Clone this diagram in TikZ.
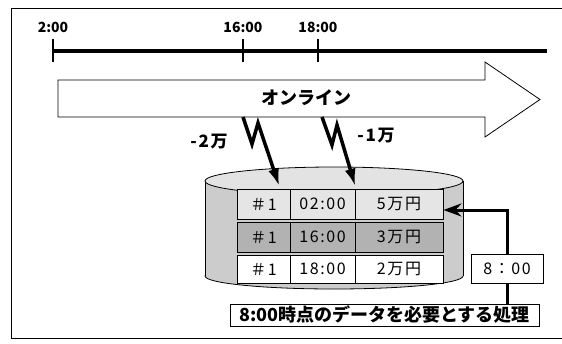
\documentclass[tikz,border=0pt]{standalone}
\usepackage{fontspec}
\setmainfont{Noto Sans CJK JP}
\newfontfamily\wide{Noto Sans CJK JP}[LetterSpace=10]
\usetikzlibrary{arrows.meta}
\tikzstyle{cell}=[draw, thick, inner sep=0pt, font=\fontsize{16}{16}\selectfont\wide]
\tikzstyle{bolt}=[line width=3.5pt, -{Latex[length=18pt,width=11pt]}]
\tikzstyle{tick}=[line width=1.6pt]
\tikzstyle{hour}=[font=\fontsize{14}{14}\selectfont\bfseries]
\tikzstyle{delta}=[font=\fontsize{17}{17}\selectfont\wide\bfseries]
\colorlet{dbside}{gray!40}
\colorlet{dbtop}{gray!22}

\begin{document}
\begin{tikzpicture}[x=1pt,y=-1pt]
\useasboundingbox (0,0) rectangle (562,343);
% frame, open on the right
\draw[thick] (562,8) -- (11,8) -- (11,338) -- (562,338);

% time axis
\draw[line width=3.5pt] (53,51) coordinate (t0) -- (547,51) coordinate (t1);
\foreach \x/\h in {53/2:00, 243/16:00, 318/18:00} {
  \draw[tick] (\x,39) -- (\x,62);
  \node[hour] (h\x) at (\x,27) {\h};
}

% online arrow
\draw[thick] (58,80) -- (485,80) -- (485,62) -- (540,99.5) -- (485,137) -- (485,117) -- (58,117) -- cycle;
\node[font=\fontsize{18}{18}\selectfont\bfseries] (online) at (306,98) {オンライン};

% database
\fill[dbside, draw=black, thick] (334,276) ellipse[x radius=129, y radius=13];
\fill[dbside] (205,181) rectangle (463,276);
\draw[thick] (205,181) -- (205,276) (463,181) -- (463,276);
\draw[thick, fill=dbtop] (334,181) ellipse[x radius=129, y radius=14];

% records
\foreach \row/\y/\h/\f/\t/\v in {1/204/30/gray!20/02:00/5万円, 2/237/30/gray!60/16:00/3万円, 3/269/28/white/18:00/2万円} {
  \node[cell, fill=\f, minimum width=53pt, minimum height=\h pt] (r\row c1) at (263.5,\y) {＃1};
  \node[cell, fill=\f, minimum width=65pt, minimum height=\h pt] (r\row c2) at (322.5,\y) {\t};
  \node[cell, fill=\f, minimum width=88pt, minimum height=\h pt] (r\row c3) at (399,\y) {\v};
}

% updates coming from the online side
\coordinate (b1) at (243,117);
\coordinate (b2) at (322,117);
\draw[bolt] (b1) -- ++(9,27) -- ++(6,-21) -- ([xshift=-11pt,yshift=2pt]r1c1.north east);
\draw[bolt] (b2) -- ++(10,28) -- ++(5,-20) -- ([yshift=2pt]r1c2.north east);
\node[delta] (m2) at (209,142) {-2万};
\node[delta] (m1) at (376,136) {-1万};

% batch job reading the 8:00 state
\node[cell, fill=white, minimum width=72pt, minimum height=29pt] (job) at (507,268.5) {8：00};
\node[draw, thick, fill=white, inner sep=1pt, minimum width=309pt, minimum height=22pt,
  font=\fontsize{18}{18}\selectfont\bfseries] (proc) at (384.5,315) {8:00時点のデータを必要とする処理};
\draw[line width=3pt, -{Stealth[length=18pt,width=13pt]}] (job.north) |- ([yshift=-6pt]r1c3.east);
\draw[line width=3pt] (job.south) -- (job.south |- proc.north);
\end{tikzpicture}
\end{document}
